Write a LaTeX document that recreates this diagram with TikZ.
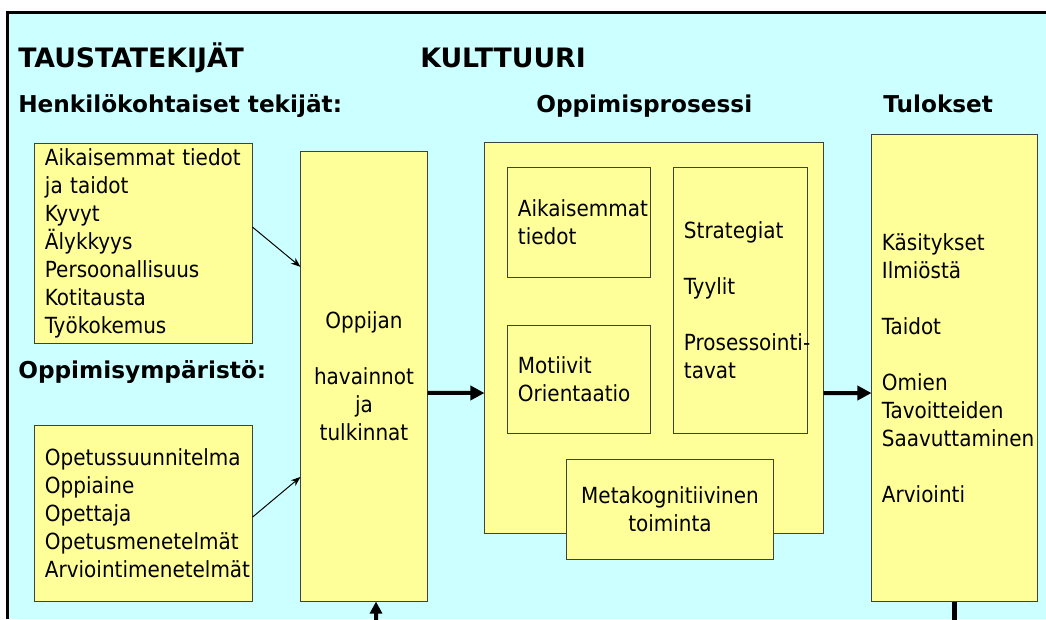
\documentclass[tikz,border=0pt]{standalone}
\usepackage{fontspec}
\setmainfont{DejaVu Sans Condensed}
\newfontfamily\headfont{DejaVu Sans}
\usetikzlibrary{arrows.meta}
\definecolor{bgcyan}{RGB}{204,255,255}
\definecolor{boxyellow}{RGB}{255,255,153}
\hyphenpenalty=10000
\exhyphenpenalty=10000

\begin{document}
\begin{tikzpicture}[x=0.025cm,y=-0.025cm]
% Define styles
\tikzstyle{box} = [rectangle, draw=black!75, fill=boxyellow, line width=0.7pt, inner xsep=0.25cm, font=\fontsize{15.8}{19.9}\selectfont]
\tikzstyle{listbox} = [box, align=left]
\tikzstyle{heading} = [anchor=base west, inner sep=0pt, font=\headfont\fontsize{16.5}{20}\selectfont\bfseries]
\tikzstyle{title} = [anchor=base west, inner sep=0pt, font=\headfont\fontsize{19}{24}\selectfont\bfseries]
\tikzstyle{arrow} = [line width=0.7pt, -{Stealth[length=2.4mm,width=1.8mm]}]
\tikzstyle{bigarrow} = [line width=0.1cm, -{Triangle[length=0.35cm,width=0.35cm]}]

% Frame
\useasboundingbox (0,0) rectangle (1046,619);
\fill[bgcyan] (7.5,12.5) rectangle (1046,619);
\draw[line width=0.075cm] (7.5,619) -- (7.5,12.5) -- (1046,12.5);

% Headings
\node (tausta) [title] at (18,67) {TAUSTATEKIJÄT};
\node (kult) [title] at (420,67) {KULTTUURI};
\node (henk) [heading] at (18,112) {Henkilökohtaiset tekijät:};
\node (ymp) [heading] at (18,378) {Oppimisympäristö:};
\node (prosh) [heading] at (536,112) {Oppimisprosessi};
\node (tulh) [heading] at (883,112) {Tulokset};

% Draw nodes
\node (pers) [listbox, text width=4.925cm, minimum height=4.975cm] at (143.5,243.5) {Aikaisemmat tiedot\\ ja taidot\\ Kyvyt\\ Älykkyys\\ Persoonallisuus\\ Kotitausta\\ Työkokemus};
\node (env) [listbox, text width=4.925cm, minimum height=4.375cm] at (143.5,513.5) {Opetussuunnitelma\\ Oppiaine\\ Opettaja\\ Opetusmenetelmät\\ Arviointimenetelmät};
\node (learner) [box, align=center, minimum width=3.15cm, minimum height=11.225cm] at (364,376.5) {Oppijan\\[19.9pt] havainnot\\ ja\\ tulkinnat};
\node (proc) [box, minimum width=8.45cm, minimum height=9.75cm] at (654,338) {};
\node (prior) [listbox, text width=3.05cm, minimum height=2.725cm] at (579,222.5) {Aikaisemmat\\ tiedot};
\node (strat) [listbox, text width=2.825cm, minimum height=6.625cm] at (740.5,300.5) {Strategiat\\[19.9pt] Tyylit\\[19.9pt] Prosessointi-\\ tavat};
\node (motiv) [listbox, text width=3.05cm, minimum height=2.675cm] at (579,379.5) {Motiivit\\ Orientaatio};
\node (meta) [box, align=center, minimum width=5.15cm, minimum height=2.5cm] at (670,509) {Metakognitiivinen\\ toiminta};
\node (res) [listbox, text width=3.625cm, minimum height=11.65cm] at (954.5,368) {Käsitykset\\ Ilmiöstä\\[19.9pt] Taidot\\[19.9pt] Omien\\ Tavoitteiden\\ Saavuttaminen\\[19.9pt] Arviointi};
\coordinate (feedin) at (376,625);
\coordinate (feedout) at (954.5,625);

% Draw arrows
\draw [arrow] ([yshift=0.41cm]pers.east) -- ([yshift=2.74cm]learner.west);
\draw [arrow] ([yshift=-0.09cm]env.east) -- ([yshift=-2.51cm]learner.west);
\draw [bigarrow] ([yshift=-0.41cm]learner.east) -- ([yshift=-1.375cm]proc.west);
\draw [bigarrow] ([yshift=-1.375cm]proc.east) -- ([yshift=-0.625cm]res.west);
\draw [bigarrow, -{Triangle[length=0.3cm,width=0.3cm]}] (feedin) -- ([xshift=0.3cm]learner.south);
\draw [line width=0.12cm] (res.south) -- (feedout);
\end{tikzpicture}
\end{document}
